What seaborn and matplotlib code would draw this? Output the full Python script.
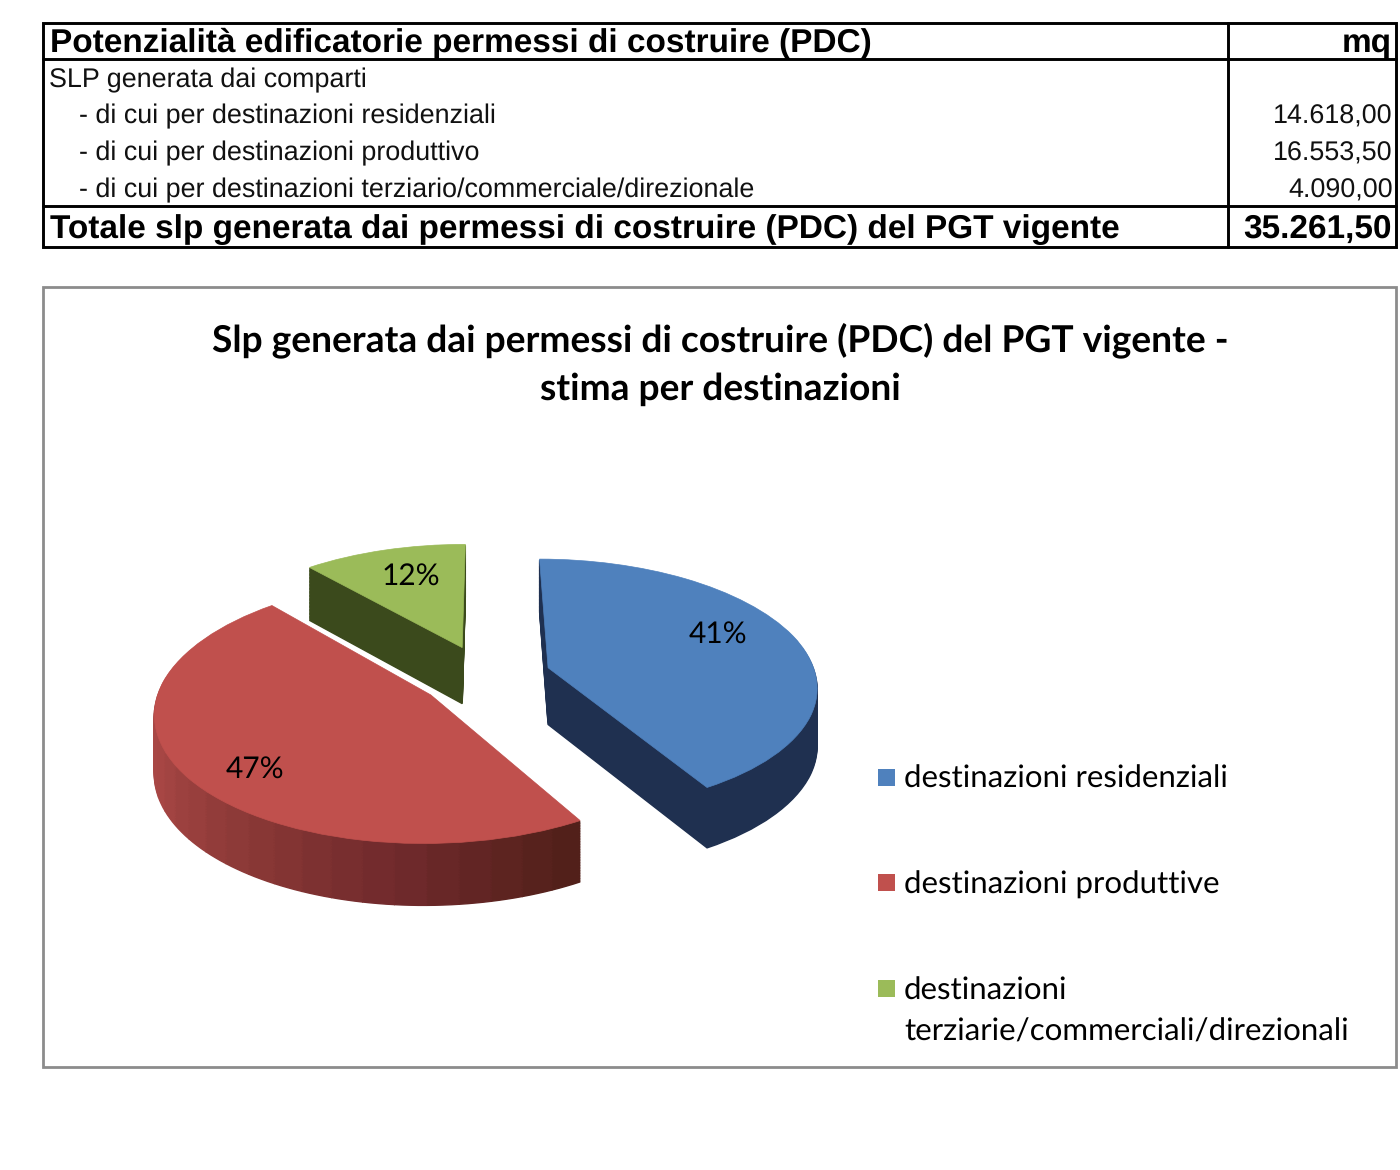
import numpy as np
import seaborn as sns
import matplotlib.pyplot as plt
from matplotlib.patches import Rectangle
from matplotlib.transforms import Transform

# data
destinazioni = ["destinazioni residenziali", "destinazioni produttive", "destinazioni\nterziarie/commerciali/direzionali"]
mq_valori = [14618.0, 16553.5, 4090.0]
quote_pct = [41, 47, 12]

tabella_header = ["Potenzialità edificatorie permessi di costruire (PDC)", "mq"]
tabella_voci = ["SLP generata dai comparti",
                "- di cui per destinazioni residenziali",
                "- di cui per destinazioni produttivo",
                "- di cui per destinazioni terziario/commerciale/direzionale"]
tabella_mq = ["", "14.618,00", "16.553,50", "4.090,00"]
tabella_totale = ["Totale slp generata dai permessi di costruire (PDC) del PGT vigente", "35.261,50"]
titolo = "Slp generata dai permessi di costruire (PDC) del PGT vigente -\nstima per destinazioni"

sns.set_theme(style="white")
plt.rcParams['font.family'] = ['Liberation Sans', 'DejaVu Sans']
plt.rcParams['text.hinting'] = 'no_hinting'

top_colors = ["#4f81bd", "#c0504d", "#9bbb59"]
side_colors = ["#1f3050", None, "#3b4a1c"]
red_side = sns.blend_palette(["#52201a", "#702a2c", "#8c3937", "#a84745", "#aa4846", "#ad4a48"], 28)

W, H = 1400, 1170
fig = plt.figure(figsize=(W / 100, H / 100), dpi=100)

# overlay in reference pixels for table and frame
over = fig.add_axes([0, 0, 1, 1], zorder=3)
over.set_xlim(0, W)
over.set_ylim(H, 0)
over.axis("off")
over.patch.set_alpha(0)

# ---------- table ----------
lw = 2.1
over.add_patch(Rectangle((43, 23), 1353, 224, fill=False, ec="black", lw=lw))
over.plot([43, 1396], [59, 59], color="black", lw=lw)
over.plot([43, 1396], [206, 206], color="black", lw=lw)
over.plot([1228, 1228], [23, 247], color="black", lw=lw)

BOLD = 24.0
BODY = 19.4
over.text(50, 52, tabella_header[0], fontsize=BOLD, fontweight="bold", color="black")
over.text(1392, 52, tabella_header[1], fontsize=BOLD, fontweight="bold", color="black", ha="right")
for i, (voce, mq) in enumerate(zip(tabella_voci, tabella_mq)):
    y = 87 + i * 36.7
    over.text(49 if i == 0 else 79, y, voce, fontsize=BODY, color="#111111")
    over.text(1393, y, mq, fontsize=BODY, color="#111111", ha="right")
over.text(50, 238, tabella_totale[0], fontsize=BOLD, fontweight="bold", color="black")
over.text(1392, 238, tabella_totale[1], fontsize=BOLD, fontweight="bold", color="black", ha="right")

# ---------- chart frame and title ----------
over.add_patch(Rectangle((43, 287), 1353, 780, fill=False, ec="#8c8c8c", lw=2))
over.text(720, 351, titolo.split("\n")[0], fontsize=26.7, fontweight="bold", family="Lato", color="black", ha="center")
over.text(720, 400, titolo.split("\n")[1], fontsize=26.7, fontweight="bold", family="Lato", color="black", ha="center")

# ---------- pie ----------
SQ, Q = 0.475, 2.296e-4  # tilt of the plate, near side looks bigger
KX = 5.0e-4              # far side narrower
KD = 2.8e-4              # rim is a bit taller at the front


class Prospettiva(Transform):
    input_dims = 2
    output_dims = 2
    is_separable = False
    has_inverse = False

    def __init__(self, vx, drop=0.0):
        super().__init__()
        self.vx = vx
        self.drop = drop

    def transform_non_affine(self, xy):
        xy = np.asarray(xy, dtype=float)
        x, y = xy[:, 0], xy[:, 1]
        return np.column_stack([self.vx + (x - self.vx) * (1 - KX * y),
                                SQ * y - Q * y * y - self.drop * (1 - KD * y)])


ax = fig.add_axes([100 / W, (H - 960) / H, 800 / W, 480 / H], zorder=2)
ax.patch.set_alpha(0)

cx, cy = 485, 0
R, EXPL = 268, 66
DEPTH, STEP = 57, 1.5

shares = np.array(mq_valori) / sum(mq_valori)
starts = 90 - 360 * np.concatenate([[0], np.cumsum(shares)[:-1]])
for idx in [2, 0, 1]:   # green at the back, red last
    mid = np.radians(starts[idx] - 180 * shares[idx])
    c = (cx + EXPL * np.cos(mid), cy + EXPL * np.sin(mid))
    bands = 28 if idx == 1 else 1
    band_colors = red_side if idx == 1 else [side_colors[idx]]
    for off in np.arange(DEPTH, 0, -STEP):
        wedges, _ = ax.pie([shares[idx] / bands] * bands, startangle=starts[idx], counterclock=False,
                           normalize=False, radius=R, center=c, colors=band_colors,
                           wedgeprops=dict(linewidth=1.0))
        for w, col in zip(wedges, band_colors):
            w.set_edgecolor(col)
            w.set_transform(Prospettiva(cx, off) + ax.transData)
    wedges, _ = ax.pie([shares[idx]], startangle=starts[idx], counterclock=False, normalize=False,
                       radius=R, center=c, colors=[top_colors[idx]],
                       wedgeprops=dict(linewidth=0.5, edgecolor=top_colors[idx]))
    wedges[0].set_transform(Prospettiva(cx) + ax.transData)

ax.set_aspect("auto")
ax.set_xlim(100, 900)
ax.set_ylim(676 - 960, 676 - 480)
ax.axis("off")

# ---------- labels ----------
for (x, y), p in zip([(718, 643), (255, 778), (411, 585)], quote_pct):
    over.text(x, y, f"{p}%", fontsize=21.5, family="Lato", color="black", ha="center")

# ---------- legend ----------
for col, y in zip(top_colors, [778, 883, 989]):
    over.add_patch(Rectangle((878, y - 9), 17, 17, fc=col, ec="none"))
for txt, y in zip(destinazioni, [788, 894, 1000]):
    for j, line in enumerate(txt.split("\n")):
        over.text(904, y + j * 41, line, fontsize=22.5, family="Lato", color="black")

fig.savefig("out.png", dpi=100, facecolor="white")
